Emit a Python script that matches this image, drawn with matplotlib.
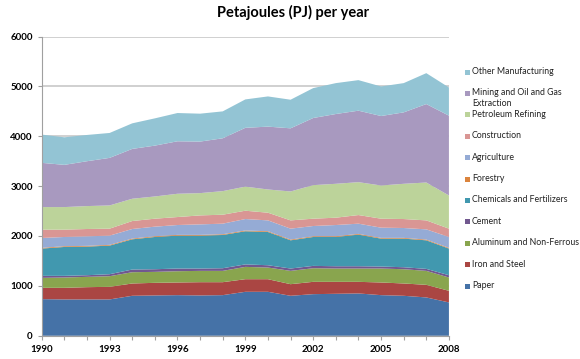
import numpy as np
import matplotlib
matplotlib.use("Agg")
import matplotlib.pyplot as plt
from matplotlib.patches import Rectangle

# =============================
# Data (PJ per year)
# =============================
years = list(range(1990, 2009))

paper = [733, 727, 727, 727, 800, 807, 813, 807, 813, 880, 880, 800, 833, 840, 847, 813, 800, 767, 667]
iron_steel = [227, 233, 246, 253, 247, 253, 254, 266, 260, 253, 253, 233, 247, 240, 233, 254, 247, 253, 233]
aluminum = [200, 207, 207, 213, 226, 220, 226, 227, 227, 247, 234, 267, 273, 267, 267, 280, 286, 280, 267]
cement = [40, 33, 33, 40, 54, 53, 54, 47, 53, 50, 46, 47, 47, 46, 46, 40, 40, 40, 46]
chemicals = [547, 580, 574, 574, 606, 647, 660, 660, 667, 665, 667, 566, 580, 587, 634, 560, 574, 573, 534]
forestry = [15, 15, 15, 15, 15, 15, 15, 15, 15, 15, 15, 15, 15, 15, 15, 15, 15, 15, 15]
agriculture = [198, 185, 191, 185, 192, 192, 198, 211, 212, 230, 218, 219, 205, 225, 205, 205, 198, 205, 218]
construction = [167, 147, 147, 140, 160, 160, 160, 180, 180, 167, 154, 166, 147, 147, 173, 180, 180, 180, 167]
petroleum = [453, 453, 460, 466, 447, 446, 467, 447, 473, 483, 466, 580, 673, 680, 660, 666, 707, 760, 666]
mining = [887, 847, 900, 954, 1000, 1020, 1053, 1034, 1060, 1180, 1261, 1267, 1347, 1400, 1434, 1394, 1433, 1574, 1601]
other = [567, 553, 527, 500, 513, 547, 567, 560, 540, 570, 606, 574, 600, 620, 613, 593, 587, 620, 566]

series = [paper, iron_steel, aluminum, cement, chemicals, forestry,
          agriculture, construction, petroleum, mining, other]
labels = ["Paper", "Iron and Steel", "Aluminum and Non-Ferrous", "Cement",
          "Chemicals and Fertilizers", "Forestry", "Agriculture", "Construction",
          "Petroleum Refining", "Mining and Oil and Gas\nExtraction", "Other Manufacturing"]
colors = ["#4572a7", "#aa4643", "#89a54e", "#71588f", "#4198af", "#db843d",
          "#95abd5", "#d99694", "#bcd39a", "#a899bf", "#93c4d4"]

# =============================
# Plot
# =============================
plt.rcParams['font.family'] = ['Lato', 'DejaVu Sans']
fig = plt.figure(figsize=(5.8, 3.59), dpi=100)
ax = fig.add_axes([0.072, 0.065, 0.702, 0.833])

ax.stackplot(years, *series, colors=colors, edgecolor="none", zorder=2)

ax.set_xlim(1990, 2008)
ax.set_ylim(0, 6000)
ax.set_yticks(range(0, 7000, 1000))
ax.set_xticks(years, minor=True)
ax.set_xticks(range(1990, 2009, 3))
ax.tick_params(axis="both", labelsize=7, length=3, width=0.8)
ax.tick_params(axis="x", which="minor", length=3, width=0.8, color="#a0a0a0")
ax.tick_params(axis="both", which="major", color="#a0a0a0")
for lab in ax.get_xticklabels() + ax.get_yticklabels():
    lab.set_fontweight("bold")
    lab.set_color("black")

ax.grid(axis="y", color="#c8c8c8", linewidth=1.2, zorder=0)
ax.set_axisbelow(True)
for side in ["top", "right"]:
    ax.spines[side].set_visible(False)
ax.spines["left"].set_color("#a0a0a0")
ax.spines["bottom"].set_color("#a0a0a0")

fig.text(0.505, 0.965, "Petajoules (PJ) per year", ha="center", va="center",
         fontsize=10.5, fontweight="bold")

# legend, top entry first
W, H = 580.0, 359.0
for i, (lab, col) in enumerate(zip(labels[::-1], colors[::-1])):
    y_px = 72 + i * 21.4
    fig.patches.append(Rectangle((465 / W, 1 - (y_px + 2.5) / H), 5 / W, 5 / H,
                                 transform=fig.transFigure, facecolor=col,
                                 edgecolor="none"))
    fig.text(472 / W, 1 - (y_px - 5) / H, lab, ha="left", va="top",
             fontsize=6.3, linespacing=1.25, color="#222222")

plt.savefig("out.png", dpi=100)
plt.close()
